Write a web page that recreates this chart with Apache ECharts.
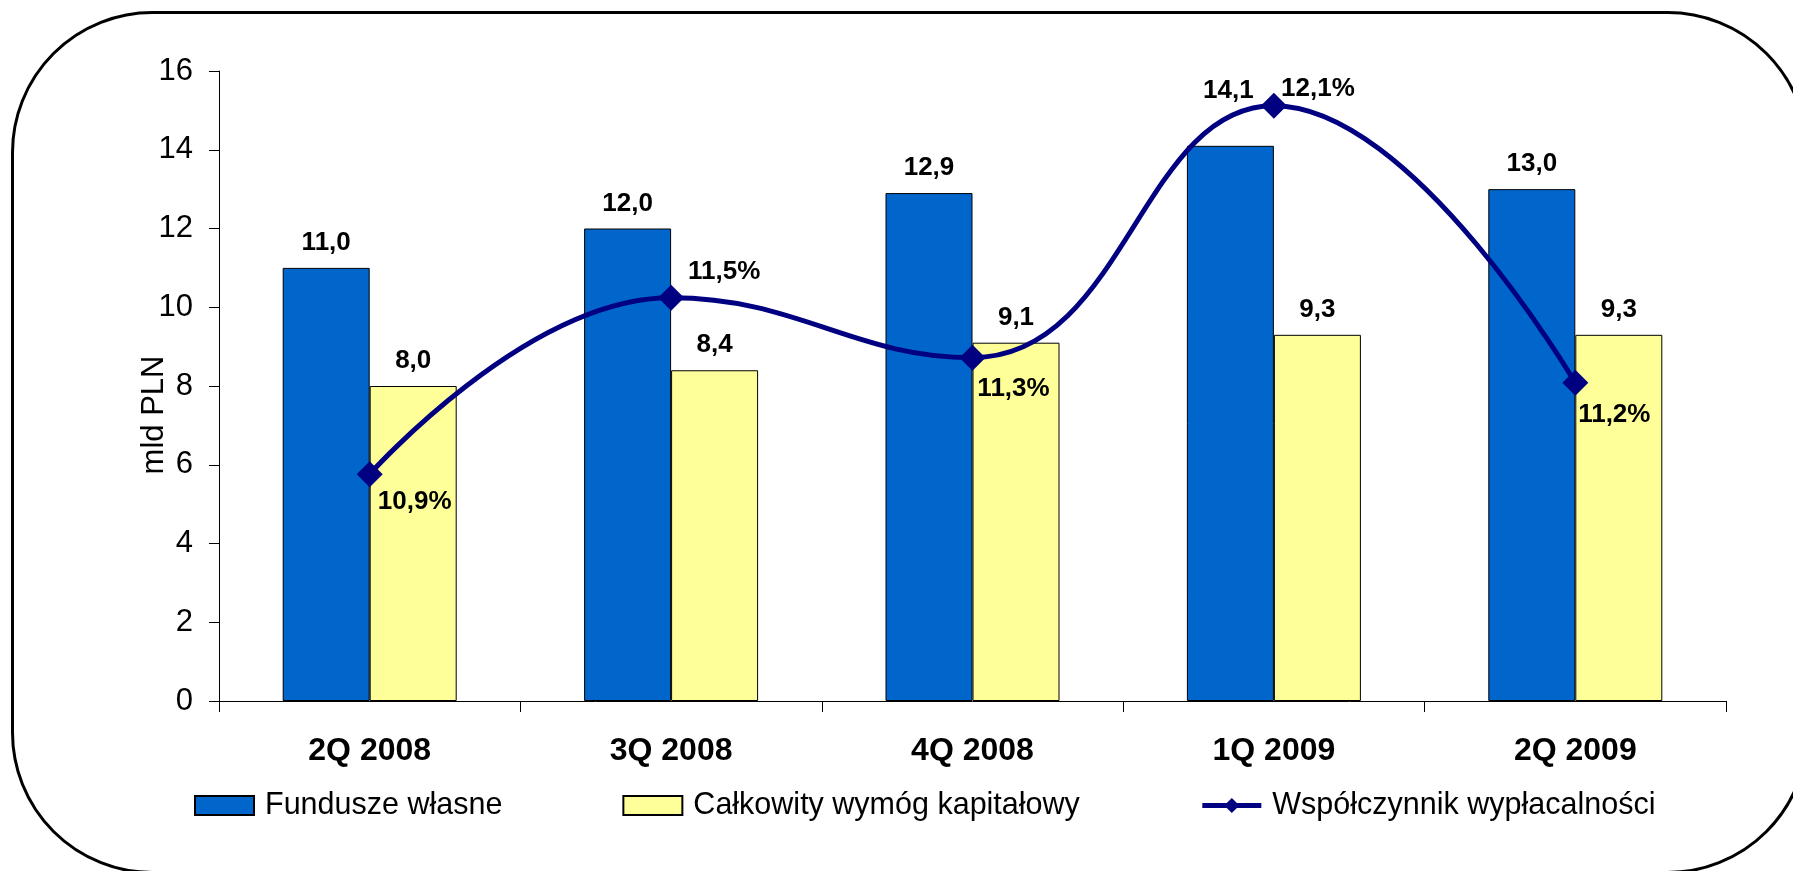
<!DOCTYPE html>
<html>
<head>
<meta charset="utf-8">
<script src="https://cdn.jsdelivr.net/npm/echarts@6/dist/echarts.min.js"></script>
<style>
html,body{margin:0;padding:0;background:#fff;}
#c{width:1793px;height:871px;}
</style>
</head>
<body>
<div id="c"></div>
<script>
// ---- data ----
const categories = ['2Q 2008', '3Q 2008', '4Q 2008', '1Q 2009', '2Q 2009'];
const ownFunds = [11.0, 12.0, 12.9, 14.1, 13.0];          // Fundusze własne (mld PLN)
const capitalRequirement = [8.0, 8.4, 9.1, 9.3, 9.3];     // Całkowity wymóg kapitałowy (mld PLN)
const solvencyRatio = [10.92, 11.48, 11.29, 12.09, 11.21]; // Współczynnik wypłacalności (%)
const seriesNames = ['Fundusze własne', 'Całkowity wymóg kapitałowy', 'Współczynnik wypłacalności'];
const yAxisTitle = 'mld PLN';

// ---- presentation ----
const FONT = "'Liberation Sans', Arial, sans-serif";
const lineLabelOffsets = [[45, 28], [53, -26], [41, 31], [44, -17], [39, 32]];
const ownFundsLabelOffsets = [[0, 0], [0, 0], [0, 0], [-2, -30], [0, 0]];
const fmt1 = v => v.toFixed(1).replace('.', ',');
const NAVY = '#000080';

const chart = echarts.init(document.getElementById('c'), null, {renderer: 'canvas'});

const barLabel = {show: true, position: 'top', distance: 12, fontFamily: FONT, fontSize: 26, fontWeight: 'bold', color: '#000',
  formatter: p => fmt1(p.value)};

const option = {
  backgroundColor: '#ffffff',
  animation: false,
  textStyle: {fontFamily: FONT, color: '#000'},
  grid: {left: 219, right: 67, top: 71, bottom: 170, containLabel: false},
  legend: {
    left: 194,
    top: 790,
    padding: 0,
    itemWidth: 59,
    itemHeight: 19,
    itemGap: 120,
    textStyle: {fontFamily: FONT, fontSize: 30.5, color: '#000', padding: [0, 0, 0, 6]},
    data: [
      {name: seriesNames[0], icon: 'rect'},
      {name: seriesNames[1], icon: 'rect'},
      {name: seriesNames[2], lineStyle: {width: 5, color: NAVY}, itemStyle: {color: NAVY}}
    ]
  },
  xAxis: {
    type: 'category',
    data: categories,
    boundaryGap: true,
    axisLine: {lineStyle: {color: '#000', width: 1}},
    axisTick: {show: true, alignWithLabel: false, length: 11, lineStyle: {color: '#000'}},
    axisLabel: {fontFamily: FONT, fontSize: 32, fontWeight: 'bold', color: '#000', margin: 34}
  },
  yAxis: [{
    type: 'value',
    min: 0, max: 16, interval: 2,
    axisLine: {show: true, lineStyle: {color: '#000', width: 1}},
    axisTick: {show: true, length: 10, lineStyle: {color: '#000'}},
    splitLine: {show: false},
    axisLabel: {fontFamily: FONT, fontSize: 31, color: '#000', margin: 26}
  }, {
    type: 'value',
    min: 10.2, max: 12.2, interval: 0.2,
    show: false,
    splitLine: {show: false}
  }],
  graphic: [{
    type: 'rect',
    shape: {x: 12.5, y: 12.5, width: 1795, height: 860, r: 140},
    style: {fill: 'none', stroke: '#000', lineWidth: 3},
    silent: true
  }, {
    type: 'text',
    x: 154, y: 415,
    rotation: Math.PI / 2,
    style: {text: yAxisTitle, font: '31px ' + FONT, fill: '#000', align: 'center', verticalAlign: 'middle'},
    silent: true
  }],
  series: [{
    name: seriesNames[0],
    type: 'bar',
    data: ownFunds.map((v, i) => ({value: v, label: {offset: ownFundsLabelOffsets[i]}})),
    barWidth: 87,
    barGap: '0%',
    itemStyle: {color: '#0066CC', borderColor: '#000', borderWidth: 1},
    label: barLabel
  }, {
    name: seriesNames[1],
    type: 'bar',
    data: capitalRequirement,
    barWidth: 87,
    barGap: '0%',
    itemStyle: {color: '#FFFF99', borderColor: '#000', borderWidth: 1},
    label: barLabel
  }, {
    name: seriesNames[2],
    type: 'line',
    yAxisIndex: 1,
    data: solvencyRatio.map((v, i) => ({value: v, label: {offset: lineLabelOffsets[i]}})),
    smooth: 0.45,
    symbol: 'diamond',
    symbolSize: 26,
    z: 5,
    lineStyle: {color: NAVY, width: 5},
    itemStyle: {color: NAVY},
    label: {show: true, position: 'inside', fontFamily: FONT, fontSize: 26, fontWeight: 'bold', color: '#000',
      formatter: p => fmt1(p.value) + '%'}
  }]
};
chart.setOption(option);
</script>
</body>
</html>
